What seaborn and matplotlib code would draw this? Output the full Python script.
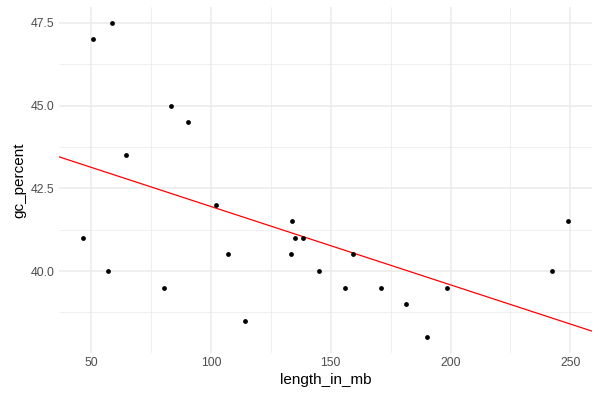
import numpy as np
import pandas as pd
import seaborn as sns
import matplotlib.pyplot as plt
from matplotlib.ticker import MultipleLocator

# chromosome lengths (Mb) and gc content (%)
length_in_mb = [248.9, 242.2, 198.3, 190.2, 181.5, 170.8, 159.3, 145.1, 138.4, 133.8,
                135.1, 133.3, 114.4, 107.0, 102.0, 90.3, 83.3, 80.4, 58.6, 64.4,
                46.7, 50.8, 156.0, 57.2]
gc_percent = [41.5, 40.0, 39.5, 38.0, 39.0, 39.5, 40.5, 40.0, 41.0, 41.5,
              41.0, 40.5, 38.5, 40.5, 42.0, 44.5, 45.0, 39.5, 47.5, 43.5,
              41.0, 47.0, 39.5, 40.0]

df = pd.DataFrame({'length_in_mb': length_in_mb, 'gc_percent': gc_percent})

sns.set_theme(style='whitegrid')
plt.rcParams['font.family'] = ['Liberation Sans', 'DejaVu Sans']

fig = plt.figure(figsize=(6, 4), dpi=100)
ax = fig.add_axes([59 / 600, 1 - 353 / 400, 533 / 600, 346 / 400])

sns.scatterplot(data=df, x='length_in_mb', y='gc_percent', ax=ax,
                color='black', s=12, linewidth=0, zorder=3)

# linear fit across the whole panel
slope, intercept = np.polyfit(df['length_in_mb'], df['gc_percent'], 1)
ax.axline((0, intercept), slope=slope, color='red', lw=0.9, zorder=2)

xr = max(length_in_mb) - min(length_in_mb)
yr = max(gc_percent) - min(gc_percent)
ax.set_xlim(min(length_in_mb) - 0.05 * xr, max(length_in_mb) + 0.05 * xr)
ax.set_ylim(min(gc_percent) - 0.05 * yr, max(gc_percent) + 0.05 * yr)

ax.xaxis.set_major_locator(MultipleLocator(50))
ax.xaxis.set_minor_locator(MultipleLocator(25))
ax.yaxis.set_major_locator(MultipleLocator(2.5))
ax.yaxis.set_minor_locator(MultipleLocator(1.25))
ax.yaxis.set_major_formatter(plt.FormatStrFormatter('%.1f'))

ax.set_facecolor('white')
for s in ax.spines.values():
    s.set_visible(False)
ax.grid(which='major', color='#EBEBEB', lw=1.1)
ax.grid(which='minor', color='#EBEBEB', lw=0.55)
ax.set_axisbelow(True)
ax.tick_params(which='both', length=0, pad=3, labelsize=8.8, labelcolor='#4D4D4D')
ax.set_xlabel('length_in_mb', fontsize=11, color='black', labelpad=3)
ax.set_ylabel('gc_percent', fontsize=11, color='black', labelpad=3)

fig.savefig('out.png', dpi=100, facecolor='white')
